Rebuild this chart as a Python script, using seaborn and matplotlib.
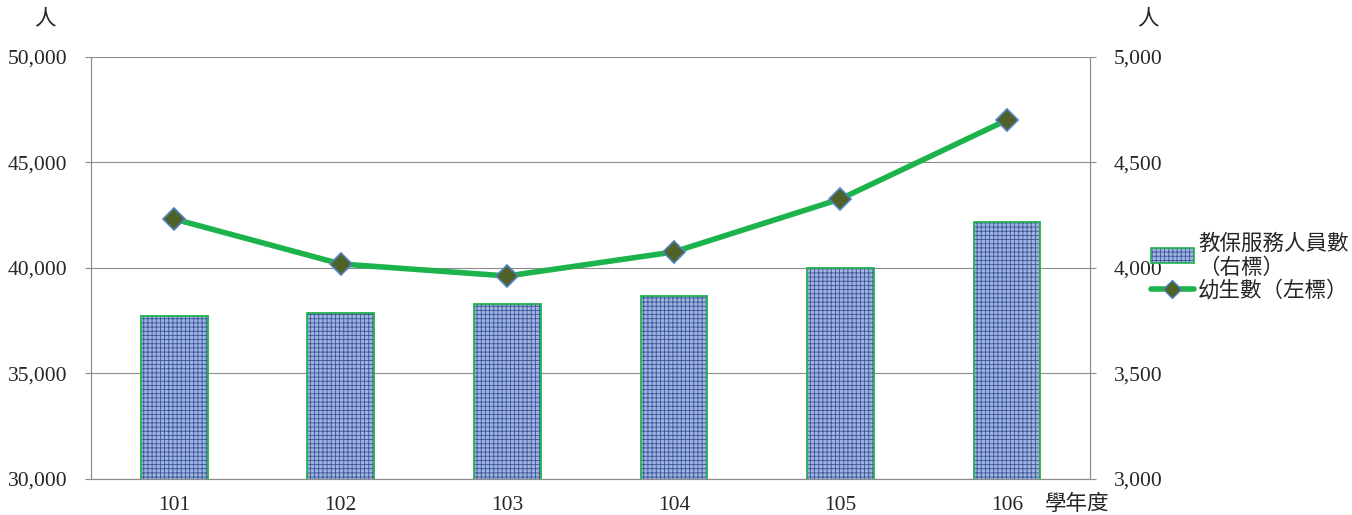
import matplotlib
matplotlib.use('Agg')
import matplotlib.pyplot as plt
import seaborn as sns
import pandas as pd
from matplotlib.patches import Patch
from matplotlib.lines import Line2D
from matplotlib.legend_handler import HandlerTuple
from matplotlib.ticker import FuncFormatter

# data
years = ['101', '102', '103', '104', '105', '106']
children = [42320, 40190, 39620, 40760, 43270, 47010]   # 幼生數 (left axis)
staff = [3772, 3787, 3829, 3867, 4000, 4218]            # 教保服務人員數 (right axis)

sns.set_style('white')
fonts = ['Liberation Serif', 'Noto Sans CJK TC', 'DejaVu Sans']
plt.rcParams['font.family'] = fonts
plt.rcParams['hatch.linewidth'] = 0.6

df = pd.DataFrame({'year': years, 'children': children, 'staff': staff})

fig = plt.figure(figsize=(13.52, 5.15), dpi=100)
ax = fig.add_axes([0.0673, 0.0699, 0.7390, 0.8195])
axb = ax.twinx()

# bars on the right axis (drawn behind)
sns.barplot(data=df, x='year', y='staff', ax=axb, width=0.4, color='#9fb2e0',
            edgecolor='#3a5598', linewidth=0, hatch='++++', saturation=1)
sns.barplot(data=df, x='year', y='staff', ax=axb, width=0.4, fill=False,
            edgecolor='#22b14c', linewidth=1.3)
axb.set_ylim(3000, 5000)
axb.set_yticks(range(3000, 5001, 500))
axb.yaxis.set_major_formatter(FuncFormatter(lambda v, p: f'{int(v):,}'))
axb.grid(axis='y', color='#8c8c8c', linewidth=0.8)
axb.set_axisbelow(True)
axb.set_ylabel('')
axb.set_xlabel('')

# line on the left axis (drawn on top)
ax.set_zorder(axb.get_zorder() + 1)
ax.patch.set_visible(False)
sns.lineplot(data=df, x='year', y='children', ax=ax, color='#1db34c', linewidth=4,
             marker='D', markersize=11, markerfacecolor='#4f6228',
             markeredgecolor='#4f81bd', markeredgewidth=1.2)
ax.set_ylim(30000, 50000)
ax.set_yticks(range(30000, 50001, 5000))
ax.yaxis.set_major_formatter(FuncFormatter(lambda v, p: f'{int(v):,}'))
ax.set_xlim(-0.5, len(years) - 0.5)
ax.set_xticks(range(len(years)))
ax.set_xticklabels(years)
ax.set_xticks([i - 0.5 for i in range(len(years) + 1)], minor=True)
ax.tick_params(axis='x', which='major', length=0, labelsize=15.5, pad=12)
ax.tick_params(axis='x', which='minor', length=4, color='#8c8c8c', direction='out')
ax.tick_params(axis='y', length=4, color='#8c8c8c', direction='out', labelsize=15.5, pad=13)
axb.tick_params(axis='y', length=4, color='#8c8c8c', direction='out', labelsize=15.5, pad=13)
ax.set_xlabel('')
ax.set_ylabel('')

for a in (ax, axb):
    a.spines['top'].set_visible(False)
    for s in ('left', 'right', 'bottom'):
        a.spines[s].set_color('#8c8c8c')
        a.spines[s].set_linewidth(0.8)

# unit labels
fig.text(45 / 1352, 1 - 20 / 515, '人', fontsize=15.5, ha='center', va='center')
fig.text(1148 / 1352, 1 - 20 / 515, '人', fontsize=15.5, ha='center', va='center')
fig.text(1077 / 1352, 1 - 505 / 515, '學年度', fontsize=15.5, ha='center', va='center')

# legend
bar_handle = (Patch(facecolor='#9fb2e0', edgecolor='#3a5598', hatch='++++', linewidth=0),
              Patch(facecolor='none', edgecolor='#22b14c', linewidth=1.2))
line_handle = Line2D([], [], color='#1db34c', linewidth=4, marker='D', markersize=9,
                     markerfacecolor='#4f6228', markeredgecolor='#4f81bd')
labels = ['教保服務人員數\n（右標）', '幼生數（左標）']
fig.legend([bar_handle, line_handle], labels, loc='center left',
           bbox_to_anchor=(1142 / 1352, 1 - 268 / 515),
           handler_map={tuple: HandlerTuple(ndivide=1, pad=0)},
           frameon=False, fontsize=15.5, handlelength=2.0, handletextpad=0.2,
           labelspacing=0.1, borderaxespad=0)

fig.savefig('out.png', dpi=100)
